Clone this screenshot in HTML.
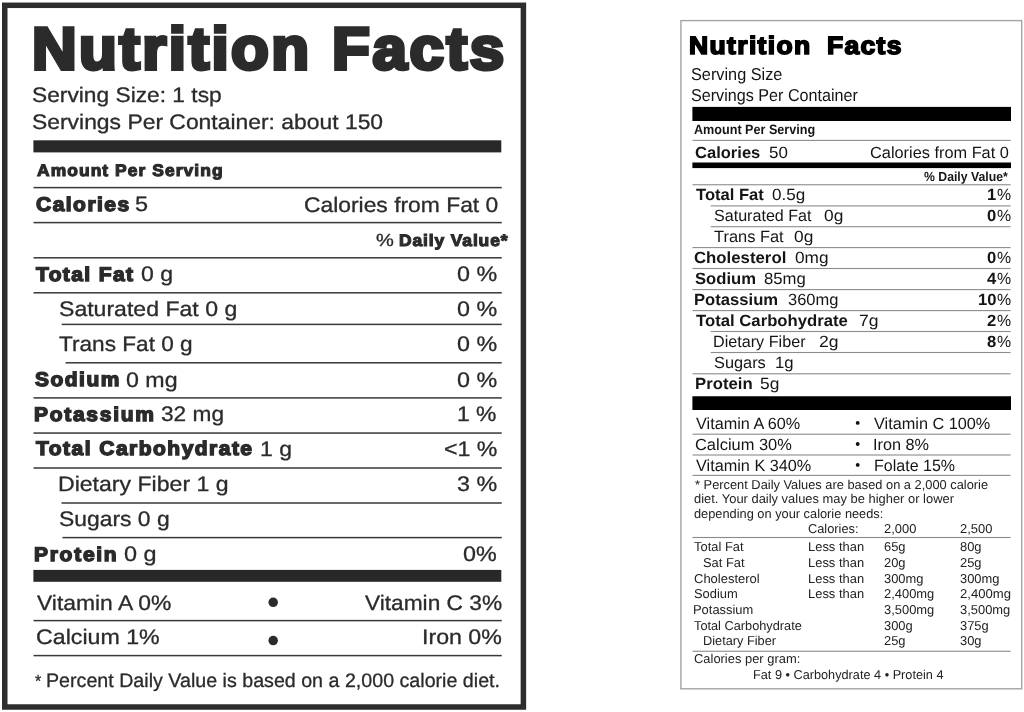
<!DOCTYPE html>
<html lang="en"><head><meta charset="utf-8"><title>Nutrition Facts</title>
<style>
html,body{margin:0;padding:0;background:#fff;}
body{width:1024px;height:712px;position:relative;overflow:hidden;font-family:"Liberation Sans",Arial,Helvetica,sans-serif;}
.t{position:absolute;white-space:nowrap;line-height:1;transform-origin:0 0;text-rendering:geometricPrecision;}
.r{position:absolute;}
.box{position:absolute;box-sizing:border-box;}
.b{position:absolute;border-radius:50%;}
</style></head><body>
<svg class="box" style="left:0;top:0" width="1024" height="712" viewBox="0 0 1024 712" shape-rendering="geometricPrecision">
<rect x="33.40" y="140.30" width="467.90" height="12.10" fill="#282828"/>
<rect x="33.40" y="569.90" width="467.90" height="11.90" fill="#282828"/>
<rect x="33.50" y="186.85" width="468.25" height="1.50" fill="#383838"/>
<rect x="33.50" y="221.85" width="468.25" height="1.50" fill="#383838"/>
<rect x="33.50" y="257.05" width="468.25" height="1.50" fill="#383838"/>
<rect x="33.50" y="292.05" width="468.25" height="1.50" fill="#383838"/>
<rect x="33.50" y="397.15" width="468.25" height="1.50" fill="#383838"/>
<rect x="33.50" y="432.30" width="468.25" height="1.50" fill="#383838"/>
<rect x="33.50" y="467.25" width="468.25" height="1.50" fill="#383838"/>
<rect x="33.50" y="619.85" width="468.25" height="1.50" fill="#383838"/>
<rect x="33.50" y="654.85" width="468.25" height="1.50" fill="#383838"/>
<rect x="61.70" y="323.65" width="440.05" height="1.50" fill="#383838"/>
<rect x="65.60" y="362.05" width="436.15" height="1.50" fill="#383838"/>
<rect x="61.50" y="502.25" width="440.25" height="1.50" fill="#383838"/>
<rect x="62.50" y="536.85" width="439.25" height="1.50" fill="#383838"/>
<rect x="692.40" y="106.90" width="318.60" height="14.10" fill="#000"/>
<rect x="692.40" y="162.50" width="318.60" height="5.60" fill="#000"/>
<rect x="692.40" y="396.25" width="318.60" height="13.75" fill="#000"/>
<rect x="692.50" y="139.85" width="318.10" height="1.10" fill="#8c8c8c"/>
<rect x="692.50" y="184.20" width="318.10" height="1.10" fill="#8c8c8c"/>
<rect x="692.50" y="247.05" width="318.10" height="1.10" fill="#8c8c8c"/>
<rect x="692.50" y="267.95" width="318.10" height="1.10" fill="#8c8c8c"/>
<rect x="692.50" y="289.05" width="318.10" height="1.10" fill="#8c8c8c"/>
<rect x="692.50" y="310.05" width="318.10" height="1.10" fill="#8c8c8c"/>
<rect x="692.50" y="373.25" width="318.10" height="1.10" fill="#8c8c8c"/>
<rect x="692.50" y="433.65" width="318.10" height="1.10" fill="#8c8c8c"/>
<rect x="692.50" y="454.45" width="318.10" height="1.10" fill="#8c8c8c"/>
<rect x="692.50" y="474.85" width="318.10" height="1.10" fill="#8c8c8c"/>
<rect x="710.75" y="205.35" width="299.85" height="1.10" fill="#8c8c8c"/>
<rect x="710.75" y="226.15" width="299.85" height="1.10" fill="#8c8c8c"/>
<rect x="710.75" y="330.95" width="299.85" height="1.10" fill="#8c8c8c"/>
<rect x="710.75" y="351.95" width="299.85" height="1.10" fill="#8c8c8c"/>
<rect x="692.50" y="536.95" width="318.10" height="1.10" fill="#8a8a8a"/>
<rect x="692.50" y="650.70" width="318.10" height="1.10" fill="#8a8a8a"/>
<circle cx="273.2" cy="602.3" r="4.75" fill="#2b2b2b"/>
<circle cx="273.2" cy="640.6" r="4.75" fill="#2b2b2b"/>
<circle cx="857.7" cy="422.9" r="1.95" fill="#111"/>
<circle cx="857.7" cy="444.0" r="1.95" fill="#111"/>
<circle cx="857.7" cy="464.9" r="1.95" fill="#111"/>
<rect x="4.75" y="5.3" width="518.65" height="701.7" fill="none" stroke="#2d2d2d" stroke-width="5.5"/>
<rect x="680.9" y="20.6" width="340.8" height="668.2" fill="none" stroke="#a4a4a4" stroke-width="1.4"/>
</svg>
<section class="label" aria-label="Nutrition Facts label, 1 tsp serving">
<span class="t" style="left:31.84px;top:19px;font-size:59.5px;color:#2b2b2b;transform:scaleX(1.0400);font-weight:bold;-webkit-text-stroke:3.8px #2b2b2b;letter-spacing:2.315px;">Nutrition</span>
<span class="t" style="left:331.59px;top:19px;font-size:59.5px;color:#2b2b2b;transform:scaleX(1.0400);font-weight:bold;-webkit-text-stroke:3.8px #2b2b2b;letter-spacing:2.542px;">Facts</span>
<span class="t" style="left:32.13px;top:85px;font-size:21.0px;color:#2b2b2b;transform:scaleX(1.0833);-webkit-text-stroke:0.3px #2b2b2b;">Serving Size: 1 tsp</span>
<span class="t" style="left:32.12px;top:112px;font-size:21.0px;color:#2b2b2b;transform:scaleX(1.0897);-webkit-text-stroke:0.3px #2b2b2b;">Servings Per Container: about 150</span>
<span class="t" style="left:36.89px;top:163px;font-size:16.6px;color:#2b2b2b;transform:scaleX(1.0500);font-weight:bold;-webkit-text-stroke:1.1px #2b2b2b;letter-spacing:1.016px;">Amount Per Serving</span>
<span class="t" style="left:35.63px;top:196px;font-size:19.8px;color:#2b2b2b;transform:scaleX(1.0600);font-weight:bold;-webkit-text-stroke:1.4px #2b2b2b;letter-spacing:1.403px;">Calories</span>
<span class="t" style="left:135.23px;top:194px;font-size:21.0px;color:#2b2b2b;transform:scaleX(1.1212);-webkit-text-stroke:0.3px #2b2b2b;">5</span>
<span class="t" style="left:304.00px;top:195px;font-size:21.0px;color:#2b2b2b;transform:scaleX(1.0878);-webkit-text-stroke:0.3px #2b2b2b;">Calories from Fat 0</span>
<span class="t" style="left:375.71px;top:232px;font-size:17.6px;color:#2b2b2b;transform:scaleX(1.1399);-webkit-text-stroke:0.3px #2b2b2b;">%</span>
<span class="t" style="left:398.91px;top:233px;font-size:16.6px;color:#2b2b2b;transform:scaleX(1.0500);font-weight:bold;-webkit-text-stroke:1.1px #2b2b2b;letter-spacing:0.840px;">Daily Value*</span>
<span class="t" style="left:36.26px;top:266px;font-size:19.8px;color:#2b2b2b;transform:scaleX(1.0600);font-weight:bold;-webkit-text-stroke:1.4px #2b2b2b;letter-spacing:1.311px;">Total Fat</span>
<span class="t" style="left:140.76px;top:264px;font-size:21.0px;color:#2b2b2b;transform:scaleX(1.0981);-webkit-text-stroke:0.3px #2b2b2b;">0 g</span>
<span class="t" style="left:456.76px;top:264px;font-size:21.0px;color:#2b2b2b;transform:scaleX(1.1098);-webkit-text-stroke:0.3px #2b2b2b;">0 %</span>
<span class="t" style="left:58.62px;top:299px;font-size:21.0px;color:#2b2b2b;transform:scaleX(1.0982);-webkit-text-stroke:0.3px #2b2b2b;">Saturated Fat 0 g</span>
<span class="t" style="left:456.76px;top:299px;font-size:21.0px;color:#2b2b2b;transform:scaleX(1.1098);-webkit-text-stroke:0.3px #2b2b2b;">0 %</span>
<span class="t" style="left:58.65px;top:334px;font-size:21.0px;color:#2b2b2b;transform:scaleX(1.0769);-webkit-text-stroke:0.3px #2b2b2b;">Trans Fat 0 g</span>
<span class="t" style="left:456.76px;top:334px;font-size:21.0px;color:#2b2b2b;transform:scaleX(1.1098);-webkit-text-stroke:0.3px #2b2b2b;">0 %</span>
<span class="t" style="left:34.64px;top:371px;font-size:19.8px;color:#2b2b2b;transform:scaleX(1.0600);font-weight:bold;-webkit-text-stroke:1.4px #2b2b2b;letter-spacing:1.409px;">Sodium</span>
<span class="t" style="left:126.26px;top:370px;font-size:21.0px;color:#2b2b2b;transform:scaleX(1.1046);-webkit-text-stroke:0.3px #2b2b2b;">0 mg</span>
<span class="t" style="left:456.76px;top:370px;font-size:21.0px;color:#2b2b2b;transform:scaleX(1.1098);-webkit-text-stroke:0.3px #2b2b2b;">0 %</span>
<span class="t" style="left:34.34px;top:406px;font-size:19.8px;color:#2b2b2b;transform:scaleX(1.0600);font-weight:bold;-webkit-text-stroke:1.4px #2b2b2b;letter-spacing:1.631px;">Potassium</span>
<span class="t" style="left:161.30px;top:404px;font-size:21.0px;color:#2b2b2b;transform:scaleX(1.0794);-webkit-text-stroke:0.3px #2b2b2b;">32 mg</span>
<span class="t" style="left:457.42px;top:404px;font-size:21.0px;color:#2b2b2b;transform:scaleX(1.0912);-webkit-text-stroke:0.3px #2b2b2b;">1 %</span>
<span class="t" style="left:36.26px;top:440px;font-size:19.8px;color:#2b2b2b;transform:scaleX(1.0600);font-weight:bold;-webkit-text-stroke:1.4px #2b2b2b;letter-spacing:1.407px;">Total Carbohydrate</span>
<span class="t" style="left:260.42px;top:439px;font-size:21.0px;color:#2b2b2b;transform:scaleX(1.0927);-webkit-text-stroke:0.3px #2b2b2b;">1 g</span>
<span class="t" style="left:443.52px;top:439px;font-size:21.0px;color:#2b2b2b;transform:scaleX(1.1019);-webkit-text-stroke:0.3px #2b2b2b;">&lt;1 %</span>
<span class="t" style="left:58.27px;top:474px;font-size:21.0px;color:#2b2b2b;transform:scaleX(1.0987);-webkit-text-stroke:0.3px #2b2b2b;">Dietary Fiber 1 g</span>
<span class="t" style="left:456.78px;top:474px;font-size:21.0px;color:#2b2b2b;transform:scaleX(1.1091);-webkit-text-stroke:0.3px #2b2b2b;">3 %</span>
<span class="t" style="left:58.62px;top:509px;font-size:21.0px;color:#2b2b2b;transform:scaleX(1.0898);-webkit-text-stroke:0.3px #2b2b2b;">Sugars 0 g</span>
<span class="t" style="left:34.34px;top:546px;font-size:19.8px;color:#2b2b2b;transform:scaleX(1.0600);font-weight:bold;-webkit-text-stroke:1.4px #2b2b2b;letter-spacing:1.639px;">Protein</span>
<span class="t" style="left:123.75px;top:544px;font-size:21.0px;color:#2b2b2b;transform:scaleX(1.1164);-webkit-text-stroke:0.3px #2b2b2b;">0 g</span>
<span class="t" style="left:463.26px;top:544px;font-size:21.0px;color:#2b2b2b;transform:scaleX(1.1106);-webkit-text-stroke:0.3px #2b2b2b;">0%</span>
<span class="t" style="left:36.81px;top:593px;font-size:21.0px;color:#2b2b2b;transform:scaleX(1.0889);-webkit-text-stroke:0.3px #2b2b2b;">Vitamin A 0%</span>
<span class="t" style="left:364.76px;top:593px;font-size:21.0px;color:#2b2b2b;transform:scaleX(1.0808);-webkit-text-stroke:0.3px #2b2b2b;">Vitamin C 3%</span>
<span class="t" style="left:35.99px;top:627px;font-size:21.0px;color:#2b2b2b;transform:scaleX(1.1039);-webkit-text-stroke:0.3px #2b2b2b;">Calcium 1%</span>
<span class="t" style="left:422.03px;top:627px;font-size:21.0px;color:#2b2b2b;transform:scaleX(1.1031);-webkit-text-stroke:0.3px #2b2b2b;">Iron 0%</span>
<span class="t" style="left:35.08px;top:673px;font-size:17.5px;color:#2b2b2b;transform:scaleX(0.9153);-webkit-text-stroke:0.3px #2b2b2b;">*</span>
<span class="t" style="left:46.14px;top:672px;font-size:19.5px;color:#2b2b2b;transform:scaleX(1.0076);-webkit-text-stroke:0.3px #2b2b2b;">Percent Daily Value is based on a 2,000 calorie diet.</span>
</section>
<section class="label" aria-label="Nutrition Facts label, standard format">
<span class="t" style="left:689.08px;top:34px;font-size:25.0px;color:#000;transform:scaleX(1.0600);font-weight:bold;-webkit-text-stroke:1.6px #000;letter-spacing:1.278px;">Nutrition</span>
<span class="t" style="left:827.08px;top:34px;font-size:25.0px;color:#000;transform:scaleX(1.0600);font-weight:bold;-webkit-text-stroke:1.6px #000;letter-spacing:1.223px;">Facts</span>
<span class="t" style="left:691.26px;top:66px;font-size:17.2px;color:#151515;transform:scaleX(0.9473);">Serving Size</span>
<span class="t" style="left:691.27px;top:87px;font-size:17.2px;color:#151515;transform:scaleX(0.9392);">Servings Per Container</span>
<span class="t" style="left:694.19px;top:123px;font-size:13.6px;color:#151515;transform:scaleX(0.9267);font-weight:bold;">Amount Per Serving</span>
<span class="t" style="left:694.82px;top:145px;font-size:16.2px;color:#151515;transform:scaleX(1.0223);font-weight:bold;">Calories</span>
<span class="t" style="left:768.82px;top:145px;font-size:16.2px;color:#151515;transform:scaleX(1.0455);">50</span>
<span class="t" style="left:870.17px;top:145px;font-size:16.2px;color:#151515;transform:scaleX(1.0089);">Calories from Fat 0</span>
<span class="t" style="left:923.89px;top:170px;font-size:13.2px;color:#151515;transform:scaleX(0.9288);font-weight:bold;">% Daily Value*</span>
<span class="t" style="left:696.06px;top:187px;font-size:16.2px;color:#151515;transform:scaleX(1.0240);font-weight:bold;">Total Fat</span>
<span class="t" style="left:772.33px;top:187px;font-size:16.2px;color:#151515;transform:scaleX(1.0552);">0.5g</span>
<span class="t" style="left:997.03px;top:187px;font-size:16.2px;color:#151515;transform:scaleX(0.9812);">%</span>
<span class="t" style="left:987.21px;top:187px;font-size:16.2px;color:#151515;transform:scaleX(1.0272);font-weight:bold;">1</span>
<span class="t" style="left:713.77px;top:208px;font-size:16.2px;color:#151515;transform:scaleX(0.9943);">Saturated Fat</span>
<span class="t" style="left:824.32px;top:208px;font-size:16.2px;color:#151515;transform:scaleX(1.0708);">0g</span>
<span class="t" style="left:997.03px;top:208px;font-size:16.2px;color:#151515;transform:scaleX(0.9812);">%</span>
<span class="t" style="left:987.43px;top:208px;font-size:16.2px;color:#151515;transform:scaleX(1.0272);font-weight:bold;">0</span>
<span class="t" style="left:714.13px;top:229px;font-size:16.2px;color:#151515;transform:scaleX(1.0149);">Trans Fat</span>
<span class="t" style="left:793.57px;top:229px;font-size:16.2px;color:#151515;transform:scaleX(1.0708);">0g</span>
<span class="t" style="left:694.31px;top:250px;font-size:16.2px;color:#151515;transform:scaleX(1.0366);font-weight:bold;">Cholesterol</span>
<span class="t" style="left:795.08px;top:250px;font-size:16.2px;color:#151515;transform:scaleX(1.0641);">0mg</span>
<span class="t" style="left:997.03px;top:250px;font-size:16.2px;color:#151515;transform:scaleX(0.9812);">%</span>
<span class="t" style="left:987.43px;top:250px;font-size:16.2px;color:#151515;transform:scaleX(1.0272);font-weight:bold;">0</span>
<span class="t" style="left:695.02px;top:271px;font-size:16.2px;color:#151515;transform:scaleX(1.0272);font-weight:bold;">Sodium</span>
<span class="t" style="left:764.27px;top:271px;font-size:16.2px;color:#151515;transform:scaleX(1.0316);">85mg</span>
<span class="t" style="left:997.03px;top:271px;font-size:16.2px;color:#151515;transform:scaleX(0.9812);">%</span>
<span class="t" style="left:986.83px;top:271px;font-size:16.2px;color:#151515;transform:scaleX(1.0272);font-weight:bold;">4</span>
<span class="t" style="left:694.39px;top:292px;font-size:16.2px;color:#151515;transform:scaleX(1.0271);font-weight:bold;">Potassium</span>
<span class="t" style="left:788.12px;top:292px;font-size:16.2px;color:#151515;transform:scaleX(1.0183);">360mg</span>
<span class="t" style="left:997.03px;top:292px;font-size:16.2px;color:#151515;transform:scaleX(0.9812);">%</span>
<span class="t" style="left:978.17px;top:292px;font-size:16.2px;color:#151515;transform:scaleX(1.0272);font-weight:bold;">10</span>
<span class="t" style="left:696.06px;top:313px;font-size:16.2px;color:#151515;transform:scaleX(1.0318);font-weight:bold;">Total Carbohydrate</span>
<span class="t" style="left:859.10px;top:313px;font-size:16.2px;color:#151515;transform:scaleX(1.0840);">7g</span>
<span class="t" style="left:997.03px;top:313px;font-size:16.2px;color:#151515;transform:scaleX(0.9812);">%</span>
<span class="t" style="left:987.41px;top:313px;font-size:16.2px;color:#151515;transform:scaleX(1.0272);font-weight:bold;">2</span>
<span class="t" style="left:713.17px;top:334px;font-size:16.2px;color:#151515;transform:scaleX(0.9986);">Dietary Fiber</span>
<span class="t" style="left:818.62px;top:334px;font-size:16.2px;color:#151515;transform:scaleX(1.0829);">2g</span>
<span class="t" style="left:997.03px;top:334px;font-size:16.2px;color:#151515;transform:scaleX(0.9812);">%</span>
<span class="t" style="left:987.26px;top:334px;font-size:16.2px;color:#151515;transform:scaleX(1.0272);font-weight:bold;">8</span>
<span class="t" style="left:713.76px;top:355px;font-size:16.2px;color:#151515;transform:scaleX(1.0098);">Sugars</span>
<span class="t" style="left:774.98px;top:355px;font-size:16.2px;color:#151515;transform:scaleX(1.0323);">1g</span>
<span class="t" style="left:694.63px;top:376px;font-size:16.2px;color:#151515;transform:scaleX(1.0332);font-weight:bold;">Protein</span>
<span class="t" style="left:759.80px;top:376px;font-size:16.2px;color:#151515;transform:scaleX(1.0719);">5g</span>
<span class="t" style="left:695.68px;top:416px;font-size:16.2px;color:#151515;transform:scaleX(1.0018);">Vitamin A 60%</span>
<span class="t" style="left:874.18px;top:416px;font-size:16.2px;color:#151515;transform:scaleX(1.0047);">Vitamin C 100%</span>
<span class="t" style="left:694.91px;top:437px;font-size:16.2px;color:#151515;transform:scaleX(1.0156);">Calcium 30%</span>
<span class="t" style="left:873.00px;top:437px;font-size:16.2px;color:#151515;transform:scaleX(1.0045);">Iron 8%</span>
<span class="t" style="left:695.68px;top:458px;font-size:16.2px;color:#151515;transform:scaleX(1.0038);">Vitamin K 340%</span>
<span class="t" style="left:873.68px;top:458px;font-size:16.2px;color:#151515;transform:scaleX(0.9901);">Folate 15%</span>
<span class="t" style="left:694.79px;top:479px;font-size:12.9px;color:#222;transform:scaleX(0.9959);">* Percent Daily Values are based on a 2,000 calorie</span>
<span class="t" style="left:693.71px;top:493px;font-size:12.9px;color:#222;transform:scaleX(1.0022);">diet. Your daily values may be higher or lower</span>
<span class="t" style="left:693.71px;top:508px;font-size:12.9px;color:#222;transform:scaleX(0.9931);">depending on your calorie needs:</span>
<span class="t" style="left:808.10px;top:523px;font-size:12.9px;color:#222;transform:scaleX(0.9935);">Calories:</span>
<span class="t" style="left:883.85px;top:523px;font-size:12.9px;color:#222;transform:scaleX(1.0022);">2,000</span>
<span class="t" style="left:959.85px;top:523px;font-size:12.9px;color:#222;transform:scaleX(1.0022);">2,500</span>
<span class="t" style="left:693.96px;top:541px;font-size:12.9px;color:#222;transform:scaleX(1.0022);">Total Fat</span>
<span class="t" style="left:807.69px;top:541px;font-size:12.9px;color:#222;transform:scaleX(1.0038);">Less than</span>
<span class="t" style="left:883.84px;top:541px;font-size:12.9px;color:#222;transform:scaleX(1.0022);">65g</span>
<span class="t" style="left:959.94px;top:541px;font-size:12.9px;color:#222;transform:scaleX(1.0022);">80g</span>
<span class="t" style="left:703.16px;top:557px;font-size:12.9px;color:#222;transform:scaleX(1.0022);">Sat Fat</span>
<span class="t" style="left:807.69px;top:557px;font-size:12.9px;color:#222;transform:scaleX(1.0038);">Less than</span>
<span class="t" style="left:883.85px;top:557px;font-size:12.9px;color:#222;transform:scaleX(1.0022);">20g</span>
<span class="t" style="left:959.85px;top:557px;font-size:12.9px;color:#222;transform:scaleX(1.0022);">25g</span>
<span class="t" style="left:693.59px;top:573px;font-size:12.9px;color:#222;transform:scaleX(1.0081);">Cholesterol</span>
<span class="t" style="left:807.69px;top:573px;font-size:12.9px;color:#222;transform:scaleX(1.0038);">Less than</span>
<span class="t" style="left:884.01px;top:573px;font-size:12.9px;color:#222;transform:scaleX(1.0022);">300mg</span>
<span class="t" style="left:960.01px;top:573px;font-size:12.9px;color:#222;transform:scaleX(1.0022);">300mg</span>
<span class="t" style="left:693.66px;top:588px;font-size:12.9px;color:#222;transform:scaleX(1.0022);">Sodium</span>
<span class="t" style="left:807.69px;top:588px;font-size:12.9px;color:#222;transform:scaleX(1.0038);">Less than</span>
<span class="t" style="left:883.85px;top:588px;font-size:12.9px;color:#222;transform:scaleX(1.0022);">2,400mg</span>
<span class="t" style="left:959.84px;top:588px;font-size:12.9px;color:#222;transform:scaleX(1.0160);">2,400mg</span>
<span class="t" style="left:693.19px;top:604px;font-size:12.9px;color:#222;transform:scaleX(1.0022);">Potassium</span>
<span class="t" style="left:884.01px;top:604px;font-size:12.9px;color:#222;transform:scaleX(1.0022);">3,500mg</span>
<span class="t" style="left:960.01px;top:604px;font-size:12.9px;color:#222;transform:scaleX(1.0022);">3,500mg</span>
<span class="t" style="left:693.96px;top:620px;font-size:12.9px;color:#222;transform:scaleX(0.9895);">Total Carbohydrate</span>
<span class="t" style="left:884.01px;top:620px;font-size:12.9px;color:#222;transform:scaleX(1.0022);">300g</span>
<span class="t" style="left:960.01px;top:620px;font-size:12.9px;color:#222;transform:scaleX(1.0022);">375g</span>
<span class="t" style="left:702.70px;top:635px;font-size:12.9px;color:#222;transform:scaleX(0.9902);">Dietary Fiber</span>
<span class="t" style="left:883.85px;top:635px;font-size:12.9px;color:#222;transform:scaleX(1.0022);">25g</span>
<span class="t" style="left:960.01px;top:635px;font-size:12.9px;color:#222;transform:scaleX(1.0022);">30g</span>
<span class="t" style="left:693.59px;top:653px;font-size:12.9px;color:#222;transform:scaleX(1.0022);">Calories per gram:</span>
<span class="t" style="left:752.71px;top:669px;font-size:12.9px;color:#222;transform:scaleX(0.9863);">Fat 9 • Carbohydrate 4 • Protein 4</span>
</section>
</body></html>
